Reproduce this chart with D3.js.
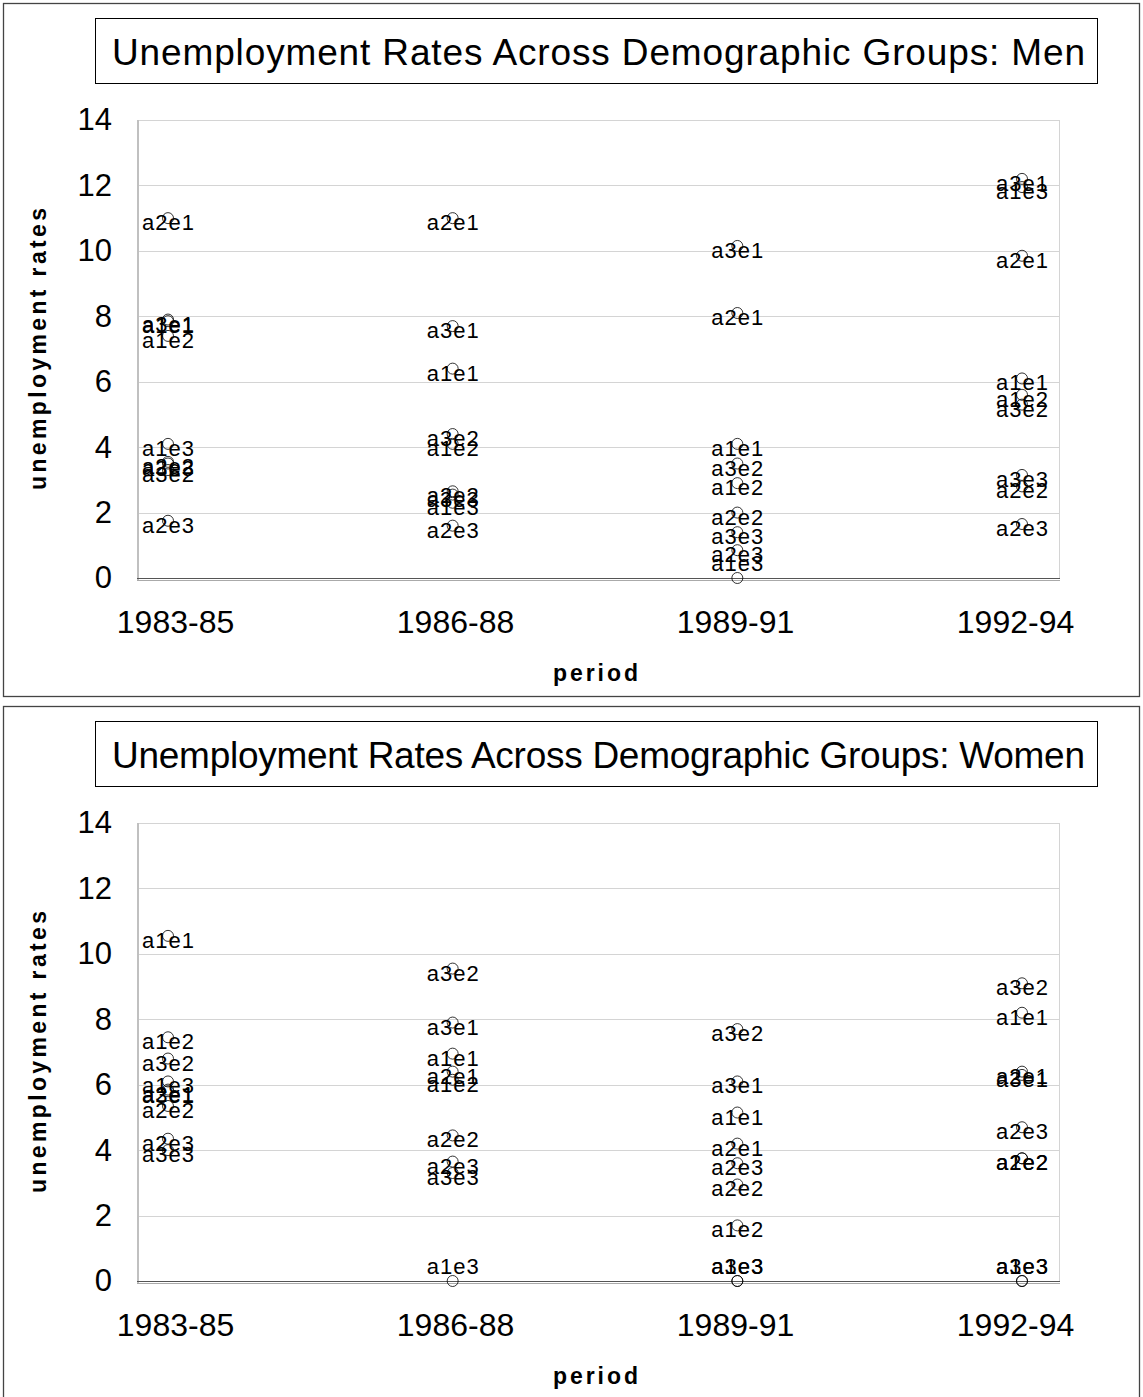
<!DOCTYPE html>
<html>
<head>
<meta charset="utf-8">
<script src="https://cdn.jsdelivr.net/npm/d3@7"></script>
<style>
  body { margin: 0; background: #fff; }
  svg { display: block; font-family: 'Liberation Sans', Arial, sans-serif; }
</style>
</head>
<body>
<svg id="chart"></svg>
<script>
'use strict'

const periods = ['1983-85', '1986-88', '1989-91', '1992-94']
const groups = ['a1e1', 'a1e2', 'a1e3', 'a2e1', 'a2e2', 'a2e3', 'a3e1', 'a3e2', 'a3e3']
const yTicks = [0, 2, 4, 6, 8, 10, 12, 14]

// one row per group, one value per period
const menRates = [
  [7.85, 6.4, 4.1, 6.1],
  [7.4, 4.1, 2.9, 5.6],
  [4.1, 2.3, 0, 11.95],
  [11.0, 11.0, 8.1, 9.85],
  [3.55, 2.65, 2.0, 2.8],
  [1.75, 1.6, 0.85, 1.65],
  [7.9, 7.7, 10.15, 12.2],
  [3.3, 4.4, 3.5, 5.3],
  [3.5, 2.55, 1.4, 3.15]
]
const womenRates = [
  [10.55, 6.95, 5.15, 8.2],
  [7.45, 6.15, 1.7, 3.75],
  [6.1, 0, 0, 0],
  [5.85, 6.4, 4.2, 6.4],
  [5.35, 4.45, 2.95, 3.75],
  [4.35, 3.65, 3.6, 4.7],
  [5.8, 7.9, 6.1, 6.3],
  [6.8, 9.55, 7.7, 9.1],
  [4.0, 3.3, 0, 0]
]

const width = 1143
const height = 1397
const panelH = 703
const plot = { left: 137, right: 1059, top: 120, bottom: 578 }

const svg = d3.select('#chart')
  .attr('width', width)
  .attr('height', height)

const y = d3.scaleLinear().domain([0, 14]).range([plot.bottom, plot.top])
const xPoint = d3.scalePoint().domain(periods).range([168, 1022])
const xLabel = d3.scalePoint().domain(periods).range([175, 1015])

function drawPanel (g, title, rates) {
  g.append('rect')
    .attr('x', 3.5).attr('y', 3.5)
    .attr('width', 1136).attr('height', 693)
    .attr('fill', '#fff')
    .attr('stroke', '#444')
    .attr('stroke-width', 1.3)

  // title box
  g.append('rect')
    .attr('x', 95.5).attr('y', 18.5)
    .attr('width', 1002).attr('height', 65)
    .attr('fill', '#fff')
    .attr('stroke', '#000')
  g.append('text')
    .attr('x', 112).attr('y', 65)
    .attr('font-size', 37)
    .attr('textLength', 973)
    .attr('lengthAdjust', 'spacing')
    .text(title)

  // gridlines
  g.append('g')
    .selectAll('line')
    .data(yTicks.filter(d => d > 0))
    .enter().append('line')
    .attr('x1', plot.left).attr('x2', plot.right)
    .attr('y1', d => Math.round(y(d)) + 0.5)
    .attr('y2', d => Math.round(y(d)) + 0.5)
    .attr('stroke', '#d4d4d4')

  g.append('line')
    .attr('x1', plot.right + 0.5).attr('x2', plot.right + 0.5)
    .attr('y1', plot.top).attr('y2', plot.bottom)
    .attr('stroke', '#d4d4d4')
  g.append('line')
    .attr('x1', plot.left + 1).attr('x2', plot.left + 1)
    .attr('y1', plot.top).attr('y2', plot.bottom + 2)
    .attr('stroke', '#c0c0c0')
    .attr('stroke-width', 2)
  g.append('line')
    .attr('x1', plot.left).attr('x2', plot.right + 1)
    .attr('y1', plot.bottom + 0.5).attr('y2', plot.bottom + 0.5)
    .attr('stroke', '#555')
    .attr('stroke-width', 1.2)
  g.append('line')
    .attr('x1', plot.left).attr('x2', plot.right + 1)
    .attr('y1', plot.bottom + 2.5).attr('y2', plot.bottom + 2.5)
    .attr('stroke', '#aaa')

  // axes
  const yAxis = g.append('g')
    .attr('transform', `translate(${plot.left},0)`)
    .call(d3.axisLeft(y).tickValues(yTicks).tickSize(0).tickPadding(25))
  yAxis.select('.domain').remove()
  yAxis.selectAll('text')
    .attr('font-size', 31)
    .attr('font-family', 'Liberation Sans, Arial, sans-serif')
    .attr('fill', '#000')

  const xAxis = g.append('g')
    .attr('transform', `translate(0,${plot.bottom})`)
    .call(d3.axisBottom(xLabel).tickSize(0).tickPadding(32))
  xAxis.select('.domain').remove()
  xAxis.selectAll('text')
    .attr('font-size', 32)
    .attr('font-family', 'Liberation Sans, Arial, sans-serif')
    .attr('fill', '#000')

  g.append('text')
    .attr('x', 553).attr('y', 681)
    .attr('font-size', 23)
    .attr('font-weight', 'bold')
    .attr('textLength', 85)
    .attr('lengthAdjust', 'spacing')
    .text('period')

  g.append('text')
    .attr('transform', 'translate(46,490) rotate(-90)')
    .attr('font-size', 23)
    .attr('font-weight', 'bold')
    .attr('textLength', 282)
    .attr('lengthAdjust', 'spacing')
    .text('unemployment rates')

  // points and labels
  const pts = []
  groups.forEach((name, i) => {
    rates[i].forEach((v, j) => pts.push({ name, period: periods[j], value: v }))
  })

  g.append('g')
    .selectAll('circle')
    .data(pts)
    .enter().append('circle')
    .attr('cx', d => xPoint(d.period))
    .attr('cy', d => y(d.value))
    .attr('r', 5.5)
    .attr('fill', 'none')
    .attr('stroke', '#000')
    .attr('stroke-width', 0.8)

  g.append('g')
    .selectAll('text')
    .data(pts)
    .enter().append('text')
    .attr('x', d => xPoint(d.period) + 0.5)
    .attr('y', d => Math.min(y(d.value) + 12, plot.bottom - 7))
    .attr('text-anchor', 'middle')
    .attr('font-size', 22)
    .attr('letter-spacing', 1)
    .text(d => d.name)
}

drawPanel(svg.append('g'), 'Unemployment Rates Across Demographic Groups: Men', menRates)
drawPanel(svg.append('g').attr('transform', `translate(0,${panelH})`),
  'Unemployment Rates Across Demographic Groups: Women', womenRates)
</script>
</body>
</html>
